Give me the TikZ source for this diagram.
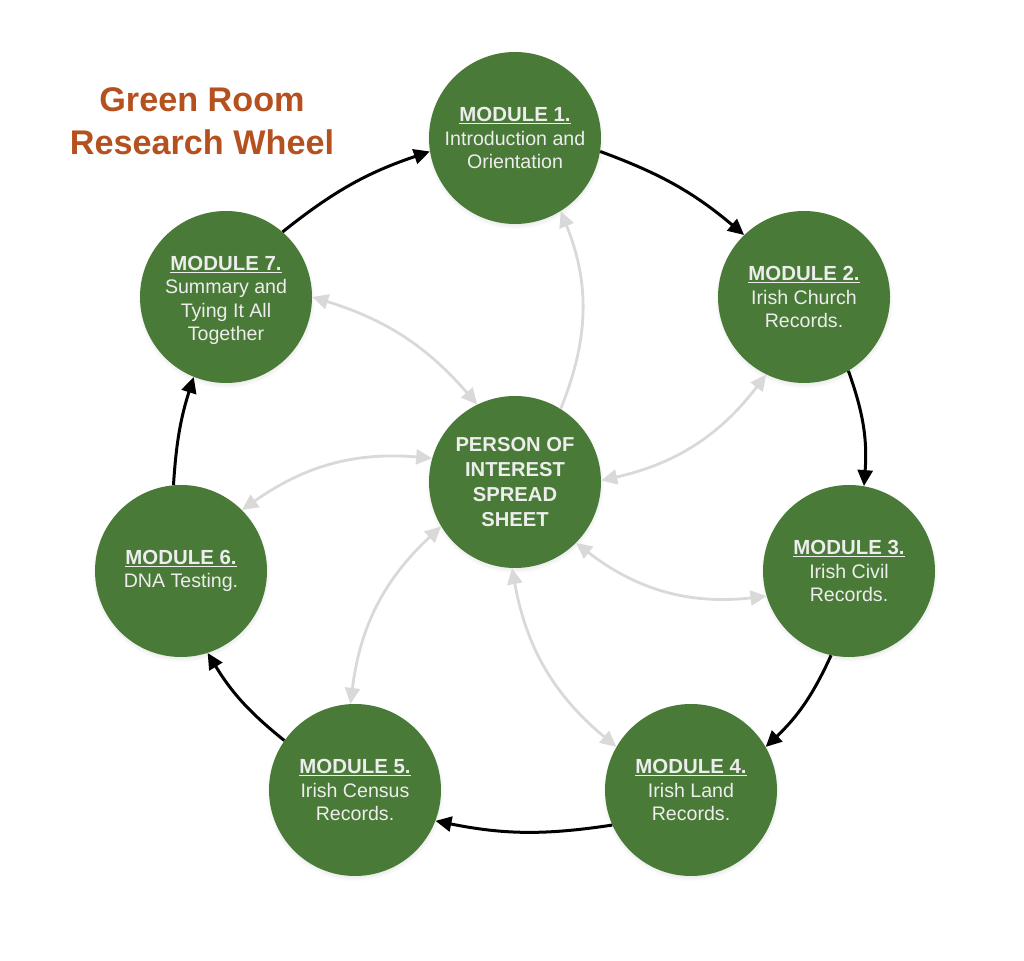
\documentclass[tikz,border=0pt]{standalone}
\usepackage{fontspec}
\setmainfont{Liberation Sans}
\usetikzlibrary{arrows.meta,shadows}
\definecolor{wheelgreen}{HTML}{4A7A37}
\definecolor{softtext}{HTML}{EDEDED}
\definecolor{softgray}{HTML}{D9D9D9}
\definecolor{titlerust}{HTML}{B5501F}
\tikzset{
  module/.style={circle,minimum size=172pt,inner sep=0pt,fill=wheelgreen,text=softtext,align=center,
    font=\fontsize{19.6}{23.5}\selectfont,
    circular drop shadow={shadow xshift=0pt,shadow yshift=-2pt,shadow scale=1.035,opacity=.35}},
  cycle/.style={line width=3pt,black,-{Triangle[length=16pt,width=15pt]}},
  link/.style={line width=2.8pt,softgray,{Triangle[length=16pt,width=15pt]}-{Triangle[length=16pt,width=15pt]}},
  oneway/.style={line width=2.8pt,softgray,-{Triangle[length=16pt,width=15pt]}},
}
\newcommand{\modtitle}[1]{{\fontsize{20.4}{23.5}\selectfont\bfseries\underline{#1}}}
\begin{document}
\begin{tikzpicture}[x=1pt,y=1pt]
\useasboundingbox (0,0) rectangle (1024,960);
\node[module] (m1) at (515,822) {\modtitle{MODULE 1.}\\Introduction and\\Orientation};
\node[module] (m2) at (804,663) {\modtitle{MODULE 2.}\\Irish Church\\Records.};
\node[module] (m3) at (849,389) {\modtitle{MODULE 3.}\\Irish Civil\\Records.};
\node[module] (m4) at (691,170) {\modtitle{MODULE 4.}\\Irish Land\\Records.};
\node[module] (m5) at (355,170) {\modtitle{MODULE 5.}\\Irish Census\\Records.};
\node[module] (m6) at (181,389) {\modtitle{MODULE 6.}\\DNA Testing.};
\node[module] (m7) at (226,663) {\rule{0pt}{21pt}\modtitle{MODULE 7.}\\Summary and\\Tying It All\\Together};
\node[module,font=\fontsize{20.2}{24.8}\selectfont\bfseries] (c) at (515,478) {PERSON OF\\INTEREST\\SPREAD\\SHEET};
\node[text=titlerust,align=center,font=\fontsize{34.2}{43}\selectfont\bfseries] (title) at (202,839) {Green Room\\Research Wheel};
\draw[cycle] (m1.351) to[bend left=10] (m2.134);
\draw[cycle] (m2.-59) to[bend left=12] (m3.80);
\draw[cycle] (m3.-102) to[bend left=11] (m4.30);
\draw[cycle] (m4.-156) to[bend left=10] (m5.-21);
\draw[cycle] (m5.145) to[bend left=10] (m6.-72);
\draw[cycle] (m6.95) to[bend left=7] (m7.-112);
\draw[cycle] (m7.49) to[bend left=10] (m1.189);
\draw[oneway] (c.58) to[bend right=22] (m1.-58);
\draw[link] (c.1) to[bend right=20] (m2.-116);
\draw[link] (c.-45) to[bend right=22] (m3.-163);
\draw[link] (c.-92) to[bend right=20] (m4.150);
\draw[link] (c.211) to[bend right=20] (m5.93);
\draw[link] (c.164) to[bend right=20] (m6.45);
\draw[link] (c.116) to[bend right=16] (m7.0);
\end{tikzpicture}
\end{document}
